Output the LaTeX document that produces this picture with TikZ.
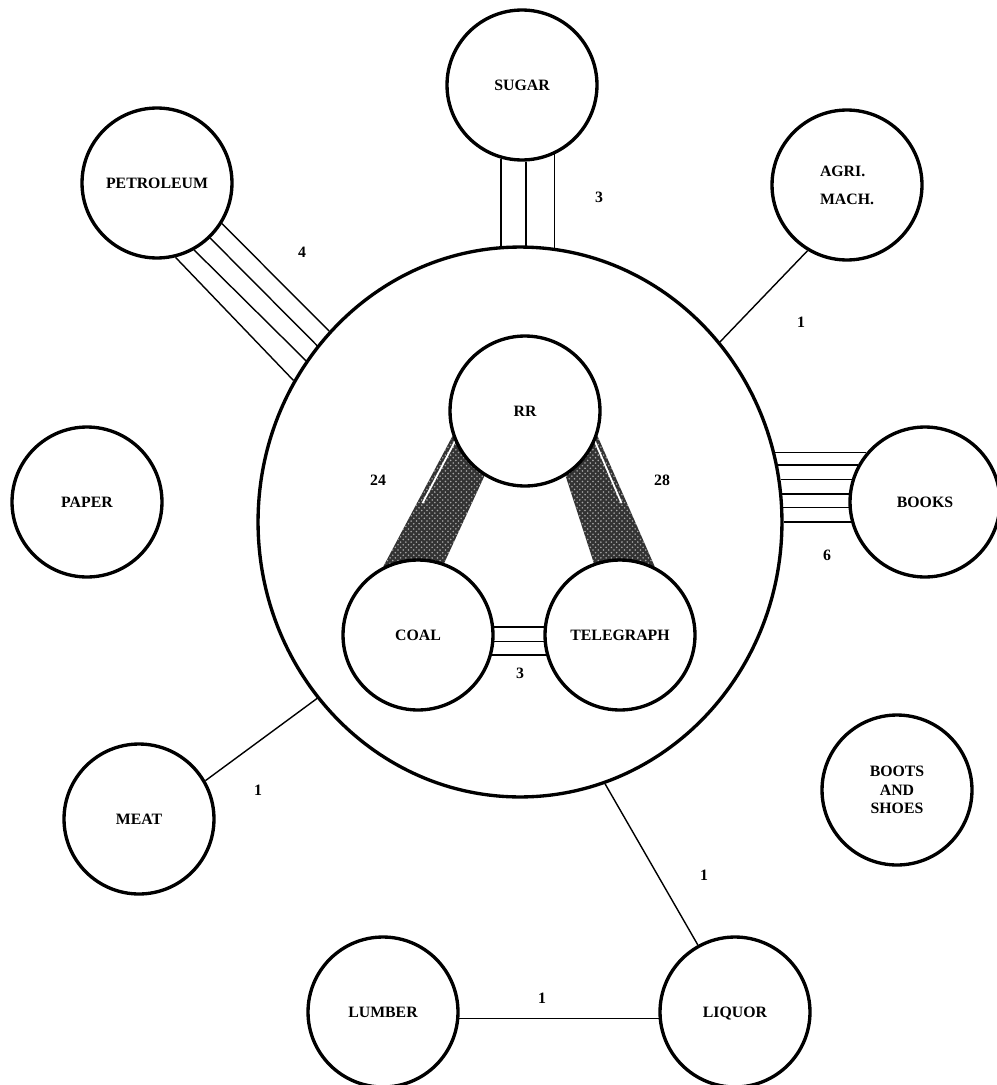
\documentclass[tikz,border=0pt]{standalone}
\usepackage{fontspec}
\setmainfont{Liberation Serif}
\usetikzlibrary{shapes.geometric,backgrounds,calc,patterns}

\begin{document}
\begin{tikzpicture}[x=0.02cm,y=-0.02cm,
    every node/.style={font=\bfseries\fontsize{9}{10.5}\selectfont},
    hub/.style={draw,circle,line width=1.9pt,minimum size=3cm,inner sep=0pt,fill=white,align=center},
    tie/.style={line width=0.8pt},
    band/.style={fill=black!80,postaction={pattern=crosshatch dots,pattern color=white!65!black}}]
  \useasboundingbox (0,0) rectangle (997,1085);
  \draw
    (520,522) node[draw,ellipse,line width=1.9pt,minimum width=10.48cm,minimum height=11cm] (core){}
    (525,411) node[hub] (rr){RR}
    (418,635) node[hub] (coal){COAL}
    (620,635) node[hub] (tele){TELEGRAPH}
    (522,85) node[hub] (sugar){SUGAR}
    (157,183) node[hub] (petro){PETROLEUM}
    (847,185) node[hub,font=\bfseries\fontsize{9}{16}\selectfont,align=left] (agri){AGRI.\\MACH.}
    (87,502) node[hub] (paper){PAPER}
    (925,502) node[hub] (books){BOOKS}
    (139,819) node[hub] (meat){MEAT}
    (897,790) node[hub] (boots){BOOTS\\AND\\SHOES}
    (383,1012) node[hub] (lumber){LUMBER}
    (735,1012) node[hub,text depth=0pt] (liquor){LIQUOR};
  \draw
    (599,197) node (nsugar){3}
    (302,252) node (npetro){4}
    (801,322) node (nagri){1}
    (827,555) node (nbooks){6}
    (258,790) node (nmeat){1}
    (520,673) node (ncoal){3}
    (704,875) node (nliquor){1}
    (542,998) node (nlumber){1}
    (378,480) node (nrrcoal){24}
    (662,480) node (nrrtele){28};
  % the two heavy links, under the circles
  \begin{scope}[on background layer]
    \fill[band] (coal.117) -- (rr.199) -- (rr.238) -- (coal.70) -- cycle;
    \fill[band] (tele.63) -- (rr.341) -- (rr.302) -- (tele.110) -- cycle;
    \coordinate (cw1) at ($(rr.199)!0.1!(rr.238)$);
    \coordinate (cw2) at ($(coal.117)!0.1!(coal.70)$);
    \coordinate (tw1) at ($(rr.341)!0.1!(rr.302)$);
    \coordinate (tw2) at ($(tele.63)!0.1!(tele.110)$);
    \draw[white,line width=1pt] (cw1) -- ($(cw1)!0.5!(cw2)$);
    \draw[white,line width=1pt] (tw1) -- ($(tw1)!0.5!(tw2)$);
  \end{scope}
  \begin{scope}[-,tie]
    \draw (sugar.254) to (sugar.254 |- core.93.96);
    \draw (sugar.273.8) to (sugar.273.8 |- core.88.54);
    \draw (sugar.295.6) to (sugar.295.6 |- core.82.68);
    \draw (petro.284.5) to (core.148);
    \draw (petro.299.8) to (core.143.8);
    \draw (petro.314.2) to (core.139.7);
    \draw (petro.328.6) to (core.135.6);
    \draw (agri.239.6) to (core.42.9);
    \draw (books.140.1) to (books.140.1 -| core.15.22);
    \draw (books.151.9) to (books.151.9 -| core.12.32);
    \draw (books.163.3) to (books.163.3 -| core.9.21);
    \draw (books.174) to (books.174 -| core.6.13);
    \draw (books.184.5) to (books.184.5 -| core.3.06);
    \draw (books.195.2) to (books.195.2 -| core.0);
    \draw (meat.30.3) to (core.221.85);
    \draw (liquor.119.1) to (core.288.4);
    \draw (lumber.355.4) to (lumber.355.4 -| liquor.184.6);
    \draw (coal.6) to (coal.6 -| tele.174);
    \draw (coal.355.9) to (coal.355.9 -| tele.184.1);
    \draw (coal.345.6) to (coal.345.6 -| tele.194.4);
  \end{scope}
\end{tikzpicture}
\end{document}
